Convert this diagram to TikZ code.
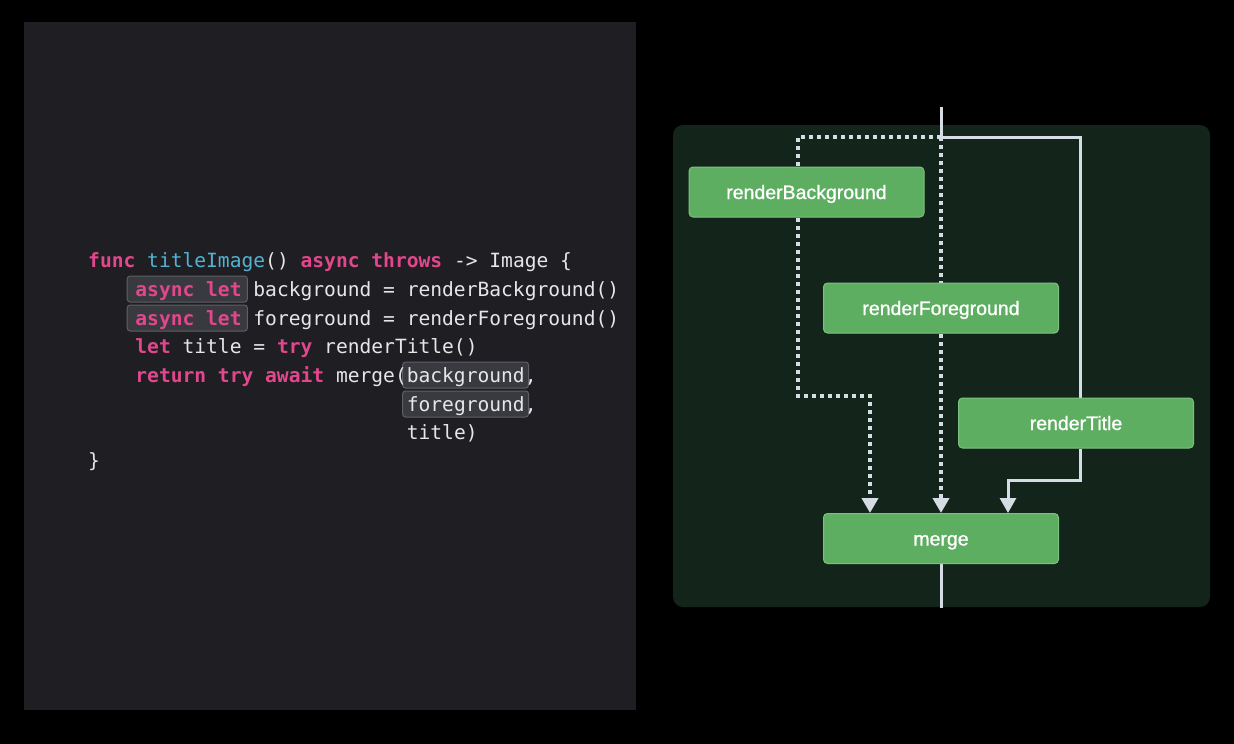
\documentclass[tikz,border=0pt]{standalone}
\usepackage{fontspec}
\usepackage{xcolor}
\usepackage{tikz}
\usetikzlibrary{arrows.meta}
\setmainfont{Liberation Sans}
\newfontfamily\codefont{DejaVu Sans Mono}
\newfontfamily\taskfont{Liberation Sans}[FakeBold=1]

\definecolor{codebg}{HTML}{1F1F23}
\definecolor{kwpink}{HTML}{E2478D}
\definecolor{fnblue}{HTML}{52B2D2}
\definecolor{plain}{HTML}{E6E6E8}
\definecolor{markfill}{HTML}{393A40}
\definecolor{markline}{HTML}{5E5F66}
\definecolor{panelgreen}{HTML}{13251A}
\definecolor{taskfill}{HTML}{5EAE62}
\definecolor{taskline}{HTML}{7CC27F}
\definecolor{flowc}{HTML}{D6DCE4}

\newcommand{\kw}[1]{{\bfseries\color{kwpink}#1}}
\newcommand{\fn}[1]{{\color{fnblue}#1}}
\def\cw{11.8}

\pgfdeclarelayer{back}
\pgfdeclarelayer{edges}
\pgfsetlayers{back,edges,main}

\begin{document}
\begin{tikzpicture}[x=1pt,y=-1pt,
    codeline/.style={anchor=base west,inner sep=0pt,text=plain,
      font=\codefont\fontsize{19.6}{24}\selectfont},
    codemark/.style={draw=markline,fill=markfill,line width=1pt,rounded corners=3pt},
    task/.style={draw=taskline,fill=taskfill,line width=1pt,rounded corners=4pt,
      minimum width=235pt,minimum height=50pt,text=white,
      text height=14pt,text depth=0pt,
      font=\taskfont\fontsize{19.5}{22}\selectfont},
    flow/.style={draw=flowc,line width=3pt},
    dots/.style={draw=flowc,line width=4pt,dash pattern=on 4pt off 4pt},
    tip/.style={-{Triangle[width=16pt,length=15pt]}}]
  \useasboundingbox (0,0) rectangle (1234,744);
  \begin{pgfonlayer}{back}
    \fill[black] (0,0) rectangle (1234,744);
    % Code panel
    \fill[codebg] (24,22) rectangle (636,710);
    % Marked code
    \draw[codemark] ({88+4*\cw-8},276) rectangle ({88+13*\cw+6},302);
    \draw[codemark] ({88+4*\cw-8},305) rectangle ({88+13*\cw+6},331);
    \draw[codemark] ({88+27*\cw-4},362) rectangle ({88+37*\cw+4},388);
    \draw[codemark] ({88+27*\cw-4},391) rectangle ({88+37*\cw+4},417);
    % Task panel
    \fill[panelgreen,rounded corners=10pt] (673,125) rectangle (1210,607);
  \end{pgfonlayer}

  % Code
  \node[codeline] (l1) at (88,267.5) {\kw{func} \fn{titleImage}() \kw{async} \kw{throws} -> Image \{};
  \node[codeline] (l2) at ({88+4*\cw},296.5) {\kw{async let} background = renderBackground()};
  \node[codeline] (l3) at ({88+4*\cw},325.5) {\kw{async let} foreground = renderForeground()};
  \node[codeline] (l4) at ({88+4*\cw},353.5) {\kw{let} title = \kw{try} renderTitle()};
  \node[codeline] (l5) at ({88+4*\cw},382.5) {\kw{return try await} merge(background,};
  \node[codeline] (l6) at ({88+27*\cw},411.5) {foreground,};
  \node[codeline] (l7) at ({88+27*\cw},439.5) {title)};
  \node[codeline] (l8) at (88,467.5) {\}};

  % Tasks
  \node[task] (bg) at (806.5,192) {renderBackground};
  \node[task] (fg) at (941,308) {renderForeground};
  \node[task] (title) at (1076,423) {renderTitle};
  \node[task] (merge) at (941,538.5) {merge};
  \coordinate (top) at (941,107);
  \coordinate (split) at (941,137);
  \coordinate (bottom) at (941,608);

  \begin{pgfonlayer}{edges}
    % Throwing child task
    \draw[flow] (top) -- (split) -| ([xshift=4pt]title.north);
    \draw[flow,tip] ([xshift=4pt]title.south) -- ++(0,32) -| ([xshift=67pt]merge.north);
    % async let child tasks
    \draw[dots] (split) -| ([xshift=-8.5pt]bg.north);
    \draw[dots,tip] ([xshift=-8.5pt]bg.south) -- ++(0,178) -| ([xshift=-71pt]merge.north);
    \draw[dots] (split) -- (fg.north);
    \draw[dots,tip] (fg.south) -- (merge.north);
    \draw[flow] (merge.south) -- (bottom);
  \end{pgfonlayer}
\end{tikzpicture}
\end{document}
